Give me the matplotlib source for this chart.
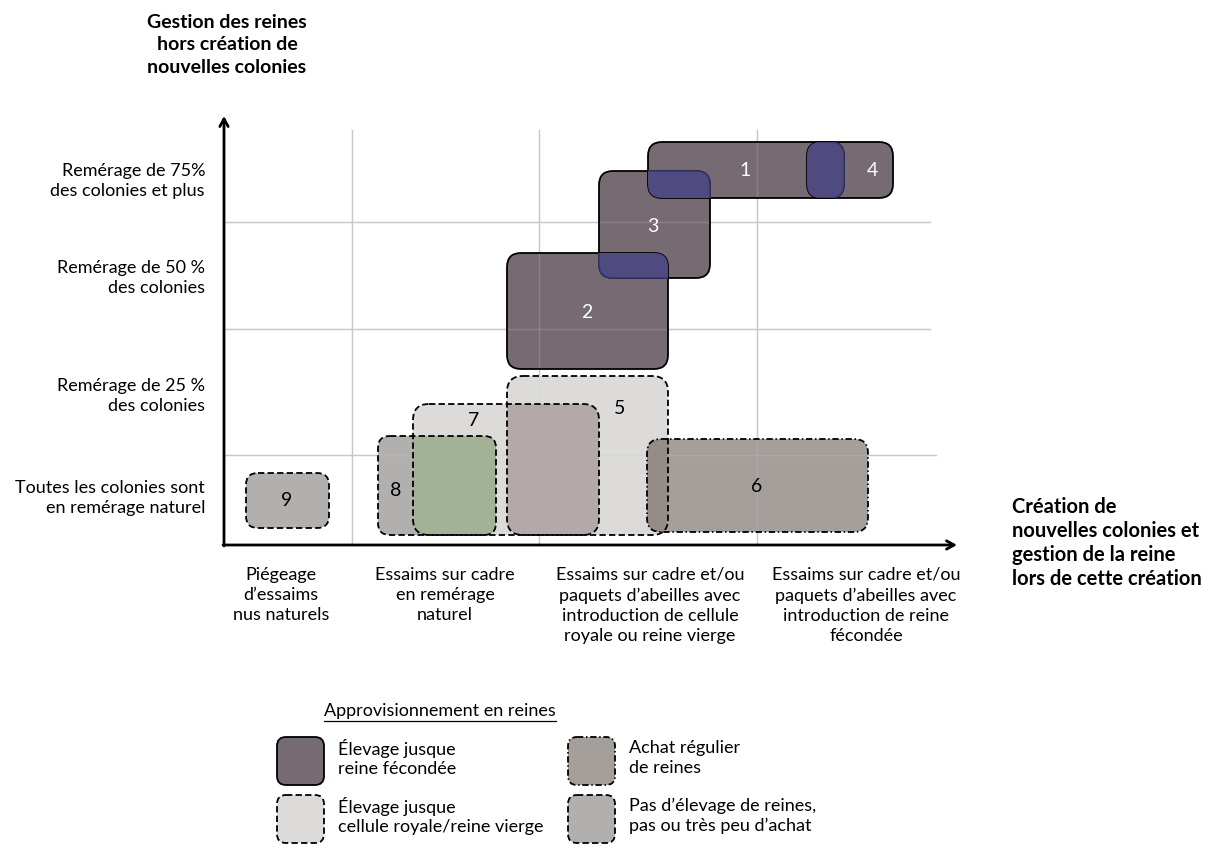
import matplotlib
matplotlib.use("Agg")
import matplotlib.pyplot as plt
from matplotlib.patches import FancyBboxPatch

plt.rcParams["font.family"] = ["Lato", "DejaVu Sans"]

# ─── DATA (diagram units = pixels of the original picture) ─────────────────────
box_ids  = ["1", "2", "3", "4", "5", "6", "7", "8", "9"]
box_kind = ["fec", "fec", "fec", "fec", "cel", "achat", "cel", "aucun", "aucun"]
box_x0   = [648, 507, 599, 807, 507, 647, 413, 378, 246]
box_x1   = [844, 668, 710, 893, 668, 868, 599, 496, 329]
box_y0   = [142, 253, 171, 142, 376, 439, 404, 436, 473]
box_y1   = [198, 369, 278, 198, 535, 532, 535, 535, 528]
label_x  = [745, 587, 653, 872, 620, 757, 474, 396, 287]
label_y  = [170, 312, 226, 170, 408, 486, 421, 490, 501]

# overlaps: (box drawn, box used as clip, colour)
overlaps = [("3", "1", "#4f4a80"), ("3", "2", "#4f4a80"), ("1", "4", "#4f4a80"),
            ("7", "8", "#a3b197"), ("7", "5", "#b3a9a8"), ("5", "6", "#958b87")]

y_labels = ["Remérage de 75%\ndes colonies et plus",
            "Remérage de 50 %\ndes colonies",
            "Remérage de 25 %\ndes colonies",
            "Toutes les colonies sont\nen remérage naturel"]
y_label_pos = [181, 278, 396, 498]

x_labels = ["Piégeage\nd\u2019essaims\nnus naturels",
            "Essaims sur cadre\nen remérage\nnaturel",
            "Essaims sur cadre et/ou\npaquets d\u2019abeilles avec\nintroduction de cellule\nroyale ou reine vierge",
            "Essaims sur cadre et/ou\npaquets d\u2019abeilles avec\nintroduction de reine\nfécondée"]
x_label_pos = [281, 445, 650, 866]

grid_x = [352, 539, 757]
grid_y = [222, 329, 455]
grid_y_end = [930, 930, 936]

legend_kind = ["fec", "cel", "achat", "aucun"]
legend_text = ["Élevage jusque\nreine fécondée",
               "Élevage jusque\ncellule royale/reine vierge",
               "Achat régulier\nde reines",
               "Pas d\u2019élevage de reines,\npas ou très peu d\u2019achat"]
legend_bx = [277, 277, 568, 568]
legend_by = [737, 795, 737, 795]

styles = {
    "fec":   dict(fc="#766a73", ls="solid", r=14),
    "cel":   dict(fc="#dcdbda", ls=(0, (3.5, 1.8)), r=16),
    "achat": dict(fc="#a59f9c", ls=(0, (3.5, 1.5, 0.8, 1.5)), r=14),
    "aucun": dict(fc="#b2b0ae", ls=(0, (3.5, 1.8)), r=12),
}

FS = 13

fig = plt.figure(figsize=(12.23, 8.47), dpi=100)
ax = fig.add_axes([0, 0, 1, 1])
ax.set_xlim(0, 1223)
ax.set_ylim(847, 0)
ax.axis("off")

# grid
for gx in grid_x:
    ax.plot([gx, gx], [130, 545], color="#c8c8c8", lw=1, zorder=1)
for gy, ge in zip(grid_y, grid_y_end):
    ax.plot([224, ge], [gy, gy], color="#c8c8c8", lw=1, zorder=1)


def make_box(x0, y0, x1, y1, kind, **kw):
    st = styles[kind]
    r = min(st["r"], (x1 - x0) / 2.2, (y1 - y0) / 2.2)
    return FancyBboxPatch((x0, y0), x1 - x0, y1 - y0,
                          boxstyle=f"round,pad=0,rounding_size={r}", **kw)


patches = {}
for i, bid in enumerate(box_ids):
    k = box_kind[i]
    p = make_box(box_x0[i], box_y0[i], box_x1[i], box_y1[i], k,
                 facecolor=styles[k]["fc"], edgecolor="none", zorder=2)
    ax.add_patch(p)
    patches[bid] = i

# faint grid through the boxes
for gx in grid_x:
    ax.plot([gx, gx], [130, 545], color="#c8c8c8", lw=1, alpha=0.25, zorder=2.5)
for gy, ge in zip(grid_y, grid_y_end):
    ax.plot([224, ge], [gy, gy], color="#c8c8c8", lw=1, alpha=0.25, zorder=2.5)


def overlay(a, b, col, z, edge):
    i, j = patches[a], patches[b]
    clip = make_box(box_x0[j], box_y0[j], box_x1[j], box_y1[j], box_kind[j],
                    facecolor="none", edgecolor="none")
    ax.add_patch(clip)
    p = make_box(box_x0[i], box_y0[i], box_x1[i], box_y1[i], box_kind[i],
                 facecolor=col, edgecolor=edge, lw=1.2, zorder=z)
    ax.add_patch(p)
    p.set_clip_path(clip)


for a, b, col in overlaps:
    if box_kind[patches[a]] == "fec":
        overlay(a, b, col, 4, "#38386a")
    else:
        overlay(a, b, col, 3, "none")

# outlines
for i, bid in enumerate(box_ids):
    k = box_kind[i]
    ax.add_patch(make_box(box_x0[i], box_y0[i], box_x1[i], box_y1[i], k,
                          facecolor="none", edgecolor="black", lw=1.3,
                          linestyle=styles[k]["ls"], zorder=3.5))

for i, bid in enumerate(box_ids):
    col = "white" if box_kind[i] == "fec" else "black"
    ax.text(label_x[i], label_y[i], bid, ha="center", va="center",
            fontsize=14, color=col, zorder=5)

# axes arrows
arr = dict(arrowstyle="->,head_length=0.55,head_width=0.3", lw=2, color="black",
           shrinkA=0, shrinkB=0)
ax.annotate("", xy=(224, 116), xytext=(224, 546), arrowprops=arr, zorder=6)
ax.annotate("", xy=(957, 545), xytext=(223, 545), arrowprops=arr, zorder=6)

# axis labels
for txt, y in zip(y_labels, y_label_pos):
    ax.text(205, y, txt, ha="right", va="center", fontsize=FS,
            linespacing=1.32)
for txt, x in zip(x_labels, x_label_pos):
    ax.text(x, 567, txt, ha="center", va="top", fontsize=FS,
            linespacing=1.32)

ax.text(227, 45, "Gestion des reines\nhors création de\nnouvelles colonies",
        ha="center", va="center", fontsize=14, fontweight="bold",
        linespacing=1.42)
ax.text(1012, 543, "Création de\nnouvelles colonies et\ngestion de la reine\nlors de cette création",
        ha="left", va="center", fontsize=14.5, fontweight="bold",
        linespacing=1.25)

# legend
t = ax.text(440, 711, "Approvisionnement en reines", ha="center", va="center",
            fontsize=FS)
fig.canvas.draw()
bb = t.get_window_extent().transformed(ax.transData.inverted())
ax.plot([bb.x0, bb.x1], [721, 721], color="black", lw=0.9)

for k, txt, bx, by in zip(legend_kind, legend_text, legend_bx, legend_by):
    ax.add_patch(FancyBboxPatch((bx, by), 47, 48,
                                boxstyle="round,pad=0,rounding_size=9",
                                facecolor=styles[k]["fc"], edgecolor="black",
                                lw=1.3, linestyle=styles[k]["ls"]))
    ax.text(bx + 61, by + 21, txt, ha="left", va="center", fontsize=FS,
            linespacing=1.3)

fig.savefig("out.png", dpi=100)
